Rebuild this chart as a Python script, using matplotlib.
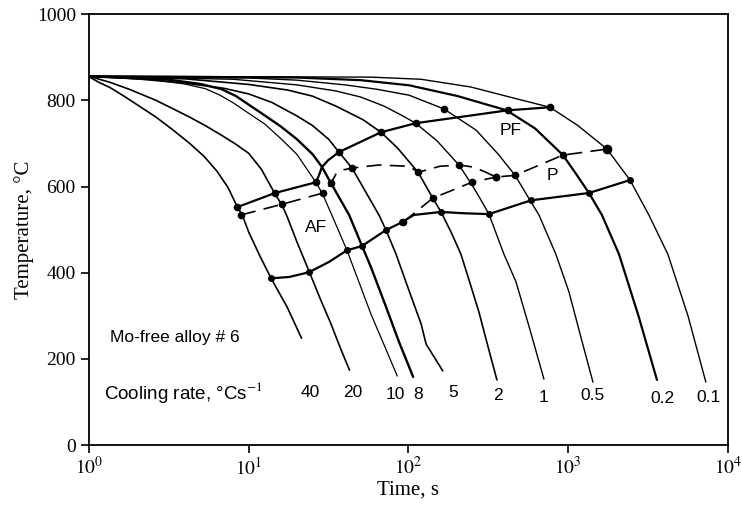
import matplotlib
matplotlib.use('Agg')
import matplotlib.pyplot as plt

plt.rcParams['font.family'] = 'Liberation Serif'
plt.rcParams['mathtext.fontset'] = 'stix'

# cooling curves: time (s), temperature (C)
t40 = [1.0, 1.15, 1.35, 1.62, 2.0, 2.63, 3.31, 4.27, 5.25, 6.31, 7.41, 8.5, 9.1, 10.0, 11.7, 13.8, 17.4, 21.4]
T40 = [855, 842, 830, 812, 790, 761, 733, 700, 670, 636, 598, 552, 534, 494, 440, 387, 320, 248]
t20 = [1.0, 1.35, 1.78, 2.63, 3.55, 4.27, 5.37, 6.76, 8.32, 10.0, 12.0, 14.5, 16.2, 17.4, 20.0, 24.0, 28.2, 32.4, 37.2, 42.7]
T20 = [856, 842, 826, 800, 776, 761, 741, 719, 698, 677, 640, 585, 556, 530, 472, 401, 337, 285, 228, 174]
t10 = [1.0, 2.51, 3.98, 5.37, 6.61, 7.94, 10.0, 12.6, 15.8, 20.0, 26.3, 28.8, 33.1, 41.2, 49.0, 58.2, 70.8, 85.1]
T10 = [856, 848, 838, 827, 812, 795, 770, 745, 712, 675, 610, 585, 534, 452, 378, 304, 230, 160]
t8 = [1.0, 3.16, 5.01, 6.76, 8.32, 10.0, 12.6, 15.8, 20.0, 25.1, 28.8, 32.7, 42.5, 51.2, 58.2, 70.8, 87.1, 107]
T8 = [856, 848, 838, 826, 810, 790, 765, 740, 710, 675, 645, 608, 534, 462, 413, 330, 240, 158]
t5 = [1.0, 2.0, 4.0, 7.0, 10.0, 14.0, 20.0, 25.0, 31.6, 36.7, 44.3, 53.7, 65.3, 72.3, 83.6, 100, 120, 129, 145, 164]
T5 = [856, 850, 840, 828, 815, 795, 764, 742, 710, 680, 643, 589, 534, 499, 443, 362, 281, 234, 204, 172]
t2 = [1.0, 4.0, 10.0, 17.5, 25.0, 35.0, 52.0, 67.3, 85.1, 115, 142, 160, 186, 213, 245, 276, 316, 358]
T2 = [856, 850, 837, 824, 810, 787, 755, 726, 690, 633, 573, 541, 492, 443, 371, 309, 226, 151]
t1 = [1.0, 8.0, 20.0, 35.0, 50.0, 70.0, 90.0, 111, 151, 207, 246, 282, 319, 396, 471, 575, 705]
T1 = [856, 849, 836, 822, 808, 787, 766, 747, 706, 650, 608, 571, 536, 443, 379, 269, 153]
t05 = [1.0, 10.0, 20.0, 40.0, 63.0, 101, 167, 265, 365, 465, 577, 656, 837, 1012, 1202, 1429]
T05 = [856, 852, 847, 836, 826, 812, 780, 731, 675, 626, 568, 534, 443, 355, 250, 146]
t02 = [1.0, 20.0, 50.0, 101, 203, 411, 620, 927, 1122, 1349, 1626, 2080, 2754, 3597]
T02 = [856, 853, 847, 835, 810, 777, 735, 673, 629, 585, 534, 443, 300, 151]
t01 = [1.0, 58.0, 120, 246, 438, 769, 1146, 1750, 2438, 3199, 4207, 5623, 7278]
T01 = [856, 854, 849, 831, 807, 784, 742, 687, 615, 534, 443, 300, 146]

# transformation lines
fs_t = [8.44, 14.6, 26.4, 27.5, 28.7, 31.4, 36.7, 67.3, 111, 420, 769]
fs_T = [552, 585, 610, 626, 645, 661, 680, 726, 747, 777, 784]
fs_dot = [True, True, True, False, False, False, True, True, True, True, True]

ps_t = [8.94, 16.2, 29.2, 32.7, 35.2, 38.4, 44.3, 65.3, 101, 115, 157, 207, 257, 306, 353, 465, 927, 1750]
ps_T = [534, 559, 585, 608, 629, 638, 643, 650, 647, 633, 647, 650, 645, 633, 622, 626, 673, 687]
ps_dot = [True, True, True, True, False, False, True, False, False, True, False, True, False, False, True, True, True, True]

p2_t = [92.4, 142, 250, 353]
p2_T = [517, 573, 610, 622]

ff_t = [13.8, 17.9, 23.8, 31.8, 41.2, 51.2, 72.3, 91.0, 108, 160, 222, 319, 585, 1349, 2438]
ff_T = [387, 390, 401, 425, 452, 462, 499, 517, 534, 541, 538, 536, 568, 585, 615]
ff_dot = [True, False, True, False, True, True, True, True, False, True, False, True, True, True, True]

pf05_t = [167]
pf05_T = [780]

rates = ['40', '20', '10', '8', '5', '2', '1', '0.5', '0.2', '0.1']
label_t = [24.2, 45.0, 82.3, 115, 190, 363, 705, 1429, 3864, 7603]
label_T = [123, 123, 118, 118, 121, 116, 111, 114, 109, 111]

fig = plt.figure(figsize=(7.42, 5.08), dpi=100)
ax = fig.add_axes([0.12, 0.124, 0.861, 0.848])

curves = [(t40, T40, 1.2), (t20, T20, 1.2), (t10, T10, 0.9), (t8, T8, 1.7),
          (t5, T5, 1.2), (t2, T2, 1.2), (t1, T1, 1.0), (t05, T05, 1.0),
          (t02, T02, 1.6), (t01, T01, 1.0)]
for t, T, lw in curves:
    ax.plot(t, T, color='black', lw=lw, solid_capstyle='round', solid_joinstyle='round')

ax.plot(fs_t, fs_T, color='black', lw=1.6)
ax.plot([x for x, d in zip(fs_t, fs_dot) if d], [y for y, d in zip(fs_T, fs_dot) if d],
        'o', color='black', ms=4.5)
ax.plot(pf05_t, pf05_T, 'o', color='black', ms=4.5)

ax.plot(ps_t, ps_T, color='black', lw=1.2, dashes=(9, 5))
ax.plot([x for x, d in zip(ps_t, ps_dot) if d], [y for y, d in zip(ps_T, ps_dot) if d],
        'o', color='black', ms=4.5)
ax.plot(ps_t[-1:], ps_T[-1:], 'o', color='black', ms=6)

ax.plot(p2_t, p2_T, color='black', lw=1.2, dashes=(9, 5))
ax.plot(p2_t, p2_T, 'o', color='black', ms=4.5)

ax.plot(ff_t, ff_T, color='black', lw=1.6)
ax.plot([x for x, d in zip(ff_t, ff_dot) if d], [y for y, d in zip(ff_T, ff_dot) if d],
        'o', color='black', ms=4)

sans = 'Liberation Sans'
ax.text(26.4, 506, 'AF', family=sans, fontsize=12.5, ha='center', va='center')
ax.text(438, 731, 'PF', family=sans, fontsize=12.5, ha='center', va='center')
ax.text(791, 626, 'P', family=sans, fontsize=12.5, ha='center', va='center')
ax.text(1.35, 250, 'Mo-free alloy # 6', family=sans, fontsize=12.5, va='center')
ax.text(1.24, 123, 'Cooling rate, °Cs$^{-1}$', family=sans, fontsize=13.5, va='center')
for r, x, y in zip(rates, label_t, label_T):
    ax.text(x, y, r, family=sans, fontsize=12.5, ha='center', va='center')

ax.set_xscale('log')
ax.set_xlim(1, 1e4)
ax.set_ylim(0, 1000)
ax.set_xticks([1, 10, 100, 1000, 10000])
ax.set_xticklabels(['$10^0$', '$10^1$', '$10^2$', '$10^3$', '$10^4$'])
ax.minorticks_off()
ax.set_yticks([0, 200, 400, 600, 800, 1000])
ax.tick_params(direction='out', length=6, width=1.2, labelsize=14, top=False, right=False)
ax.tick_params(axis='x', labelsize=14, pad=2)
for s in ax.spines.values():
    s.set_linewidth(1.3)
ax.set_xlabel('Time, s', fontsize=15, labelpad=2)
ax.set_ylabel('Temperature, °C', fontsize=15, labelpad=2)

fig.savefig('out.png', dpi=100)
